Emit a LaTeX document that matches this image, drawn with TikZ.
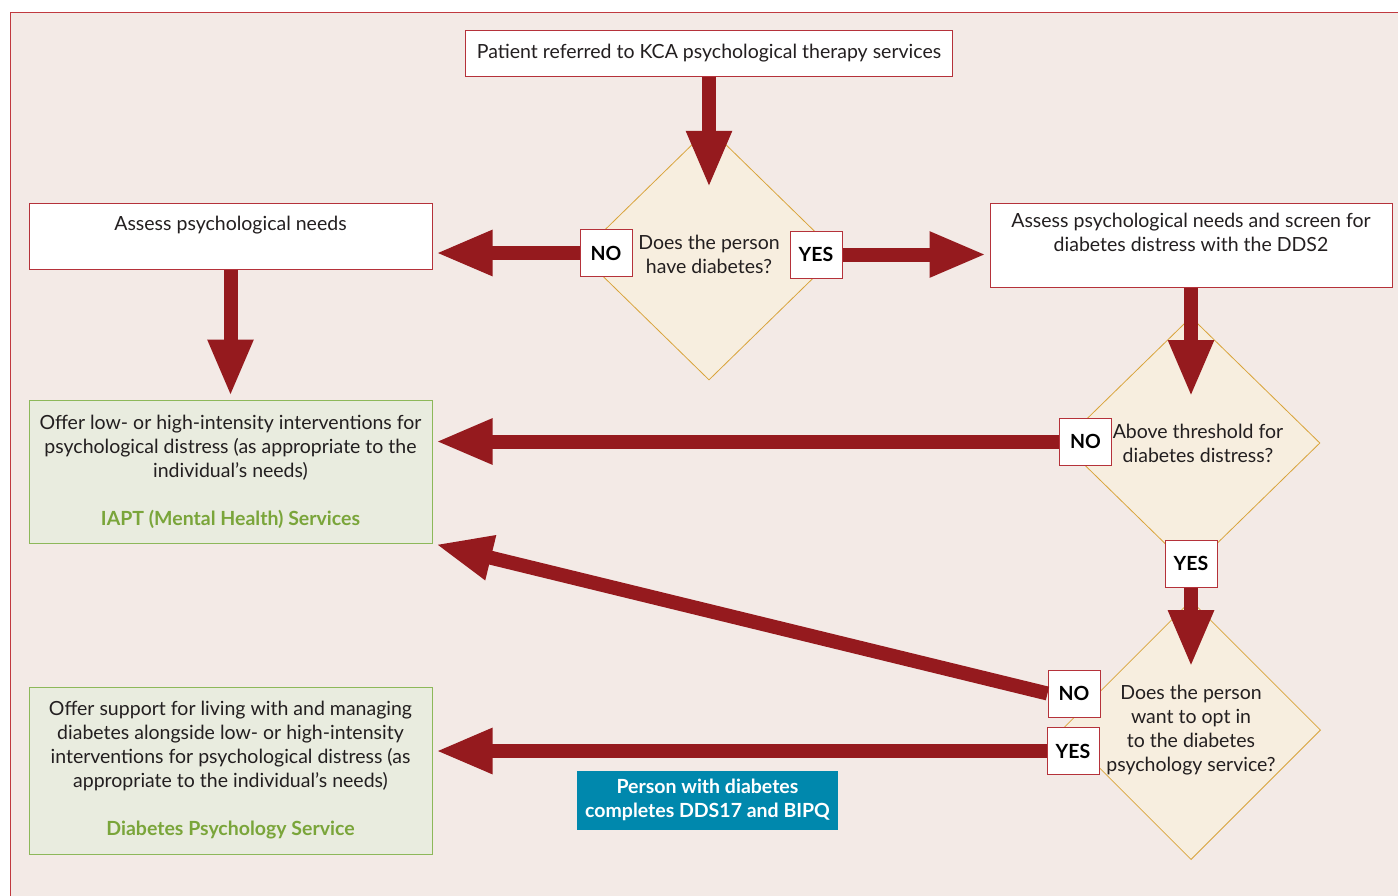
\documentclass[tikz,border=0pt]{standalone}
\usepackage{fontspec}
\setmainfont{Lato}
\usepackage{tikz}
\usetikzlibrary{shapes,shapes.geometric,arrows.meta,calc,positioning}
\usepackage{xcolor}
\definecolor{bgpink}{HTML}{F3EAE6}
\definecolor{framered}{HTML}{C0393F}
\definecolor{boxred}{HTML}{B5323A}
\definecolor{arrowred}{HTML}{951A1E}
\definecolor{gold}{HTML}{D9A43A}
\definecolor{cream}{HTML}{F7EEDF}
\definecolor{greenfill}{HTML}{E9ECDF}
\definecolor{boxgreen}{HTML}{8DB85A}
\definecolor{servicegreen}{HTML}{7AA53A}
\definecolor{teal}{HTML}{0088AD}
\definecolor{textgrey}{HTML}{231F20}

\begin{document}
\begin{tikzpicture}[x=1pt,y=-1pt,
	  every node/.style={align=center,text=textgrey,font=\fontsize{19.5}{24}\selectfont},
	  whitebox/.style={draw=boxred,fill=white,line width=1pt,inner sep=0pt},
	  greenbox/.style={draw=boxgreen,fill=greenfill,line width=1pt,inner sep=0pt,minimum width=403pt},
	  decision/.style={diamond,draw=gold,fill=cream,line width=0.8pt,minimum width=258pt,minimum height=252pt,inner sep=0pt},
	  answer/.style={whitebox,minimum width=52pt,minimum height=47pt,text=black,font=\fontsize{19.5}{24}\selectfont\bfseries},
	  link/.style={-{Triangle[width=42pt,length=57pt]},line width=14pt,draw=arrowred,shorten >=3pt}]

	  \useasboundingbox (0,0) rectangle (1398,895);
	  \clip (0,0) rectangle (1398,895);
	  \draw[draw=framered,fill=bgpink,line width=1pt] (10,12) rectangle (1420,920);

	  % Boxes
	  \node[whitebox,minimum width=487pt,minimum height=46pt] (referral) at (709,53) {Patient referred to KCA psychological therapy services};
	  \node[whitebox,minimum width=403pt,minimum height=66pt,text height=14pt,text depth=26pt] (needs) at (230.5,236) {Assess psychological needs};
	  \node[whitebox,minimum width=402pt,minimum height=84pt,text height=38pt,text depth=26pt] (screen) at (1191,245) {Assess psychological needs and screen for\\diabetes distress with the DDS2};
	  \node[greenbox,minimum height=143pt] (iapt) at (230.5,471.5) {Offer low- or high-intensity interventions for\\psychological distress (as appropriate to the\\individual’s needs)\\[24pt]\textcolor{servicegreen}{\bfseries IAPT (Mental Health) Services}};
	  \node[greenbox,minimum height=167pt] (dps) at (230.5,770.5) {Offer support for living with and managing\\diabetes alongside low- or high-intensity\\interventions for psychological distress (as\\appropriate to the individual’s needs)\\[24pt]\textcolor{servicegreen}{\bfseries Diabetes Psychology Service}};
	  \node[fill=teal,text=white,minimum width=261pt,minimum height=59pt,inner sep=0pt,font=\fontsize{19.5}{24}\selectfont\bfseries] (dds17) at (707.5,800) {Person with diabetes\\completes DDS17 and BIPQ};

	  % Decisions
	  \node[decision] (hasdiab) at (709,254) {Does the person\\have diabetes?};
	  \node[decision] (threshold) at (1191,443) {\hspace*{14pt}Above threshold for\\\hspace*{14pt}diabetes distress?};
	  \node[decision] (optin) at (1191,730) {Does the person\\want to opt in\\to the diabetes\\psychology service?};

	  % Answers
	  \node[answer] (nohas) at (606,253) {NO};
	  \node[answer] (yeshas) at (816,254.5) {YES};
	  \node[answer] (nothresh) at (1085.5,441.5) {NO};
	  \node[answer] (yesthresh) at (1191,563.5) {YES};
	  \node[answer] (noopt) at (1074,693.5) {NO};
	  \node[answer] (yesopt) at (1073,751) {YES};

	  \draw[link] (referral.south) -- ($(hasdiab.north)!.5!(hasdiab.center)$);
	  \draw[link] (nohas.west) -- (nohas.west -| needs.east);
	  \draw[link] (yeshas.east) -- (yeshas.east -| screen.west);
	  \draw[link] (needs.south) -- (iapt.north);
	  \draw[link] (screen.south) -- ($(threshold.north)!.66!(threshold.center)$);
	  \draw[link] (nothresh.west) -- (nothresh.west -| iapt.east);
	  \draw[link] (yesthresh.south) -- ($(optin.north)!.54!(optin.center)$);
	  \draw[link] (noopt.west) -- (iapt.south east);
	  \draw[link] (yesopt.west) -- (yesopt.west -| dps.east);
\end{tikzpicture}
\end{document}
